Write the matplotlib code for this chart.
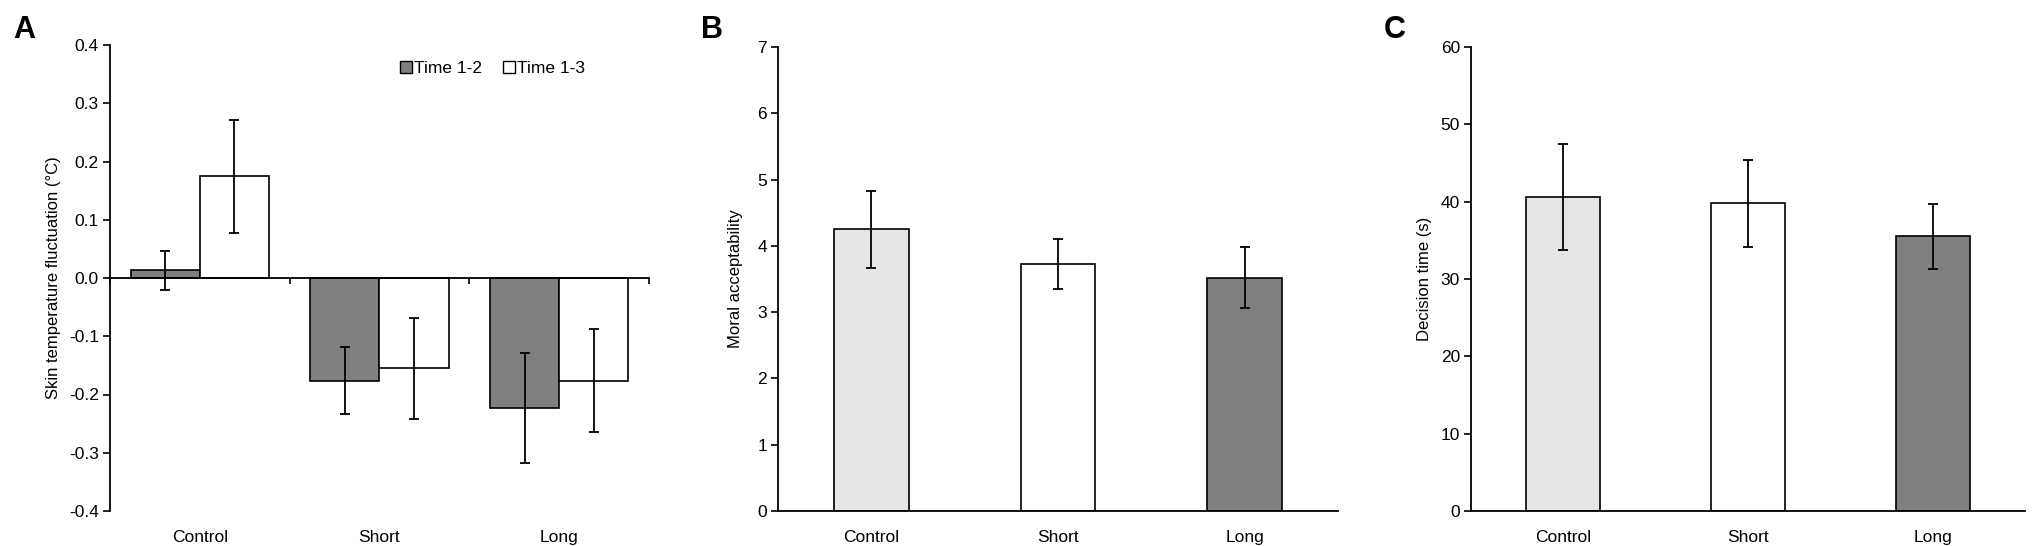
import matplotlib
matplotlib.use('Agg')
import matplotlib.pyplot as plt
import matplotlib.transforms as mtransforms
from matplotlib.patches import Patch
import numpy as np

plt.rcParams['font.family'] = ['Liberation Sans Narrow', 'Liberation Sans', 'DejaVu Sans']

# datos
grupos = ['Control', 'Short', 'Long']

# Panel A: fluctuacion de temperatura
temp_t12 = [0.013, -0.176, -0.223]
temp_t12_err = [0.033, 0.058, 0.094]
temp_t13 = [0.175, -0.155, -0.176]
temp_t13_err = [0.097, 0.087, 0.088]
temp_ticks = [-0.4, -0.3, -0.2, -0.1, 0.0, 0.1, 0.2, 0.3, 0.4]
temp_ticklabels = ['-0.4', '-0.3', '-0.2', '-0.1', '0.0', '0.1', '0.2', '0.3', '0.4']

# Panel B: aceptabilidad moral
moral = [4.25, 3.73, 3.52]
moral_err = [0.58, 0.38, 0.46]

# Panel C: tiempo de decision
tiempo = [40.6, 39.8, 35.5]
tiempo_err = [6.9, 5.6, 4.2]

colores_grupo = ['#e6e6e6', '#ffffff', '#808080']

W, H = 2033, 546
fig = plt.figure(figsize=(W / 100, H / 100), dpi=100)

def ejes(left, right, top, bottom):
    return fig.add_axes([left / W, (H - bottom) / H, (right - left) / W, (bottom - top) / H])

def estilo(ax):
    ax.spines['top'].set_visible(False)
    ax.spines['right'].set_visible(False)
    ax.spines['left'].set_linewidth(1.3)
    ax.spines['bottom'].set_linewidth(1.3)
    ax.tick_params(axis='y', direction='out', length=5, width=1.2, labelsize=12.5, pad=3)
    ax.set_xlim(-0.5, 2.5)

def etiquetas_grupo(ax):
    trans = mtransforms.blended_transform_factory(ax.transData, ax.transAxes)
    for i, g in enumerate(grupos):
        ax.text(i, -0.04, g, transform=trans, ha='center', va='top', fontsize=12.5)

err_kw = dict(ecolor='black', elinewidth=1.3, capsize=3.5, capthick=1.3)
x = np.arange(len(grupos))

# ---- Panel A
axA = ejes(110, 649, 45, 511)
estilo(axA)
w = 0.385
axA.bar(x - w / 2, temp_t12, w, yerr=temp_t12_err, color='#808080', edgecolor='black',
        linewidth=1.2, error_kw=err_kw, label='Time 1-2')
axA.bar(x + w / 2, temp_t13, w, yerr=temp_t13_err, color='white', edgecolor='black',
        linewidth=1.2, error_kw=err_kw, label='Time 1-3')
axA.set_ylim(-0.4, 0.4)
axA.set_yticks(temp_ticks)
axA.set_yticklabels(temp_ticklabels)
axA.spines['bottom'].set_position(('data', 0))
axA.set_xticks([-0.5, 0.5, 1.5, 2.5])
axA.set_xticklabels([])
axA.tick_params(axis='x', direction='out', length=4, width=1.2)
etiquetas_grupo(axA)
axA.set_ylabel('Skin temperature fluctuation (°C)', fontsize=12, labelpad=6)
axA.legend(handles=[Patch(facecolor='#808080', edgecolor='black', label='Time 1-2'),
                    Patch(facecolor='white', edgecolor='black', label='Time 1-3')],
           loc='upper right', bbox_to_anchor=(0.91, 1.0), ncol=2, frameon=False,
           fontsize=12.5, handlelength=0.7, handleheight=0.7, handletextpad=0.1,
           columnspacing=1.2)

# ---- Panel B
axB = ejes(778, 1338, 47, 511)
estilo(axB)
axB.bar(x, moral, 0.40, yerr=moral_err, color=colores_grupo, edgecolor='black',
        linewidth=1.2, error_kw=err_kw)
axB.set_ylim(0, 7)
axB.set_yticks(range(0, 8))
axB.set_xticks([])
etiquetas_grupo(axB)
axB.set_ylabel('Moral acceptability', fontsize=12, labelpad=10)

# ---- Panel C
axC = ejes(1471, 2025, 47, 511)
estilo(axC)
axC.bar(x, tiempo, 0.40, yerr=tiempo_err, color=colores_grupo, edgecolor='black',
        linewidth=1.2, error_kw=err_kw)
axC.set_ylim(0, 60)
axC.set_yticks(range(0, 61, 10))
axC.set_xticks([])
etiquetas_grupo(axC)
axC.set_ylabel('Decision time (s)', fontsize=12, labelpad=6)

# letras de panel
for letra, px in [('A', 24), ('B', 712), ('C', 1395)]:
    fig.text(px / W, 1 - 30 / H, letra, fontsize=22, fontweight='bold',
             ha='center', va='center', family=['Liberation Sans', 'DejaVu Sans'])

fig.savefig('out.png', dpi=100)
